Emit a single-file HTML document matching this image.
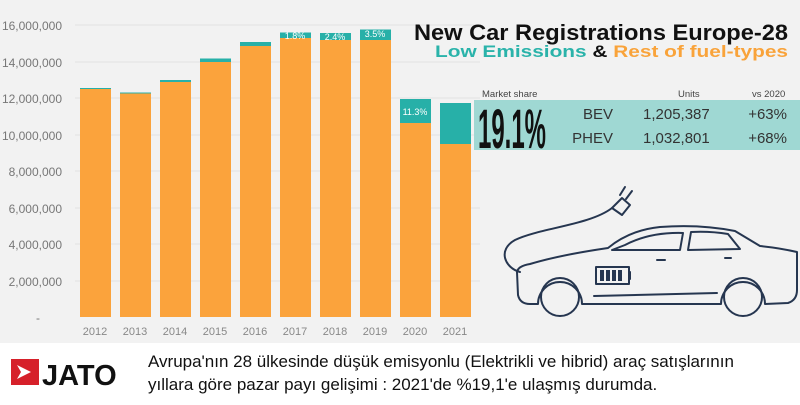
<!DOCTYPE html>
<html><head><meta charset="utf-8"><style>
body{margin:0;width:800px;height:400px;overflow:hidden;background:#fff;font-family:"Liberation Sans",sans-serif}
</style></head><body>
<svg width="800" height="400" xmlns="http://www.w3.org/2000/svg" font-family="Liberation Sans, sans-serif">
<rect width="800" height="343" fill="#f2f2f2"/>
<g stroke="#e2e2e2" stroke-width="1">
<line x1="75" x2="480" y1="25" y2="25"/><line x1="75" x2="480" y1="62" y2="62"/><line x1="75" x2="480" y1="98" y2="98"/><line x1="75" x2="480" y1="135" y2="135"/><line x1="75" x2="480" y1="171" y2="171"/><line x1="75" x2="480" y1="208" y2="208"/><line x1="75" x2="480" y1="244" y2="244"/><line x1="75" x2="480" y1="281" y2="281"/>
</g>
<g font-size="12" fill="#777" text-anchor="end">
<text x="62" y="30">16,000,000</text><text x="62" y="67">14,000,000</text><text x="62" y="103">12,000,000</text><text x="62" y="140">10,000,000</text><text x="62" y="176">8,000,000</text><text x="62" y="213">6,000,000</text><text x="62" y="249">4,000,000</text><text x="62" y="286">2,000,000</text><text x="40" y="322">-</text>
</g>
<g fill="#fba33c">
<rect x="80" y="89" width="31" height="228"/><rect x="120" y="93.5" width="31" height="223.5"/><rect x="160" y="82" width="31" height="235"/><rect x="200" y="62" width="31" height="255"/><rect x="240" y="46" width="31" height="271"/><rect x="280" y="38" width="31" height="279"/><rect x="320" y="40" width="31" height="277"/><rect x="360" y="40" width="31" height="277"/><rect x="400" y="123" width="31" height="194"/><rect x="440" y="144" width="31" height="173"/>
</g>
<g fill="#27b0a8">
<rect x="80" y="88" width="31" height="1"/><rect x="120" y="92.5" width="31" height="1"/><rect x="160" y="80" width="31" height="2"/><rect x="200" y="58.5" width="31" height="3.5"/><rect x="240" y="42" width="31" height="4"/><rect x="280" y="32.5" width="31" height="5.5"/><rect x="320" y="33" width="31" height="7"/><rect x="360" y="29.5" width="31" height="10.5"/><rect x="400" y="99" width="31" height="24"/><rect x="440" y="103" width="31" height="41"/>
</g>
<g font-size="9" fill="#fff" text-anchor="middle">
<text x="295" y="39">1.8%</text><text x="335" y="40">2.4%</text><text x="375" y="37">3.5%</text><text x="415" y="115">11.3%</text>
</g>
<g font-size="11" fill="#888" text-anchor="middle">
<text x="95" y="335">2012</text><text x="135" y="335">2013</text><text x="175" y="335">2014</text><text x="215" y="335">2015</text><text x="255" y="335">2016</text><text x="295" y="335">2017</text><text x="335" y="335">2018</text><text x="375" y="335">2019</text><text x="415" y="335">2020</text><text x="455" y="335">2021</text>
</g>
<text x="788" y="40" text-anchor="end" font-size="22" font-weight="bold" fill="#111" textLength="374" lengthAdjust="spacingAndGlyphs">New Car Registrations Europe-28</text>
<text x="788" y="57" text-anchor="end" font-size="17" font-weight="bold" fill="#f9a33a" textLength="353" lengthAdjust="spacingAndGlyphs"><tspan fill="#2ab3aa">Low Emissions</tspan><tspan fill="#111"> &amp; </tspan>Rest of fuel-types</text>
<rect x="474" y="100" width="326" height="50" fill="#9fd8d3"/>
<g font-size="9.5" fill="#444"><text x="482" y="97">Market share</text><text x="678" y="97">Units</text><text x="752" y="97">vs 2020</text></g>
<text x="478" y="148" font-size="56" font-weight="bold" fill="#111" textLength="68" lengthAdjust="spacingAndGlyphs">19.1%</text>
<g font-size="15" fill="#333"><text x="613" y="119" text-anchor="end">BEV</text><text x="613" y="143" text-anchor="end">PHEV</text>
<text x="643" y="119">1,205,387</text><text x="643" y="143">1,032,801</text>
<text x="787" y="119" text-anchor="end">+63%</text><text x="787" y="143" text-anchor="end">+68%</text></g>
<g fill="none" stroke="#263650" stroke-width="2" stroke-linejoin="round" stroke-linecap="round">
<path d="M520 272 C505 268 497 250 515 240 C540 228 590 225 612 208"/>
<path d="M612 208 l10 -10 l8 7 l-8 10 z"/><path d="M625 187 l-5 8 M632 191 l-6 8"/>
<path d="M517 272 L518 295 Q520 304 530 304 L538 304 A22 22 0 0 1 582 304 L721 304 A22 22 0 0 1 765 304 L788 303 Q797 300 797 290 L797 252 Q780 248 760 246 L735 231 Q700 224 660 227 Q630 230 608 248 Q560 255 530 264 Q518 266 517 272 Z"/>
<path d="M612 250 L680 250 L683 233 Q650 232 625 245 Z"/><path d="M688 250 L740 249 L728 234 Q710 231 691 232 Z"/>
<circle cx="560" cy="297" r="19"/><circle cx="743" cy="297" r="19"/>
<path d="M594 296 L717 293"/><path d="M657 260 h8 M725 258 h6"/>
<rect x="596" y="267" width="33" height="17"/><path d="M630 272 v7"/>
</g>
<g fill="#263650"><rect x="600" y="270" width="4" height="11"/><rect x="606" y="270" width="4" height="11"/><rect x="612" y="270" width="4" height="11"/><rect x="618" y="270" width="4" height="11"/></g>
<rect x="11" y="359" width="28" height="26" fill="#d6202a"/>
<path d="M17 365 l14 7 l-14 7 l4 -7 z" fill="#fff"/>
<text x="42" y="385" font-size="29" font-weight="bold" fill="#111">JATO</text>
<g font-size="17" fill="#111"><text x="148" y="367">Avrupa'nın 28 ülkesinde düşük emisyonlu (Elektrikli ve hibrid) araç satışlarının</text><text x="148" y="390">yıllara göre pazar payı gelişimi : 2021'de %19,1'e ulaşmış durumda.</text></g>
</svg>
</body></html>
